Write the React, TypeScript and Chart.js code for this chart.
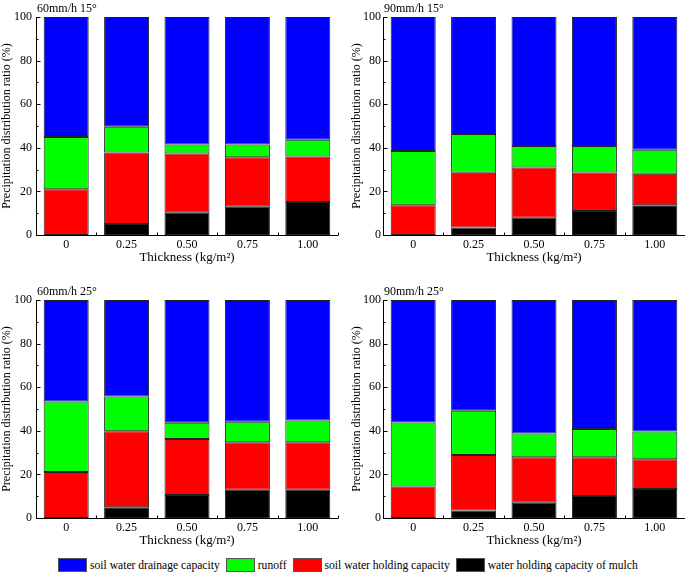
import React, { useEffect, useRef } from 'react';
import { Chart, registerables } from 'chart.js';
Chart.register(...registerables);

const categories = ['0', '0.25', '0.50', '0.75', '1.00'];
const seriesNames = [
  'soil water drainage capacity',
  'runoff',
  'soil water holding capacity',
  'water holding capacity of mulch',
];
const seriesColors = ['#0000FF', '#00FF00', '#FF0000', '#000000'];
const yTicks = [0, 20, 40, 60, 80, 100];

// 60mm/h 15°
const tlMulch = [0, 5, 10.2, 13, 15.1];
const tlSoil = [21, 32.9, 27.2, 22.7, 20.9];
const tlRunoff = [24, 11.7, 4.1, 5.8, 7.7];
const tlDrainage = [55, 50.4, 58.5, 58.5, 56.3];
// 90mm/h 15°
const trMulch = [0, 3.4, 7.9, 11, 13.6];
const trSoil = [13.7, 25.1, 23.1, 17.7, 14.5];
const trRunoff = [24.8, 17.8, 9.8, 12.1, 11];
const trDrainage = [61.5, 53.7, 59.2, 59.2, 60.9];
// 60mm/h 25°
const blMulch = [0, 4.9, 10.5, 13, 13];
const blSoil = [21.1, 34.9, 25.7, 21.8, 21.8];
const blRunoff = [32.3, 15.9, 7.5, 9.3, 9.9];
const blDrainage = [46.6, 44.3, 56.3, 55.9, 55.3];
// 90mm/h 25°
const brMulch = [0, 3.4, 7, 10.1, 13.3];
const brSoil = [14.4, 25.5, 20.9, 17.8, 13.7];
const brRunoff = [29.4, 20.3, 10.9, 12.9, 12.7];
const brDrainage = [56.2, 50.8, 61.2, 59.2, 60.3];

const FONT = '"Liberation Serif", "Times New Roman", serif';

const axesPlugin = {
  id: 'axesPlugin',
  afterDatasetsDraw(chart: any, _args: any, opts: any) {
    const { ctx, chartArea, scales } = chart;
    const { left, right, top, bottom } = chartArea;
    const x = scales.x;
    const y = scales.y;
    ctx.save();
    ctx.strokeStyle = '#000';
    ctx.lineWidth = 1;
    ctx.beginPath();
    const lx = Math.round(left) + 0.5;
    const by = Math.round(bottom) + 0.5;
    ctx.moveTo(lx, top);
    ctx.lineTo(lx, by);
    ctx.lineTo(right, by);
    for (let v = 0; v <= 100; v += 10) {
      const py = Math.round(y.getPixelForValue(v)) + 0.5;
      ctx.moveTo(lx, py);
      ctx.lineTo(lx + (v % 20 === 0 ? 4 : 2), py);
    }
    const n = categories.length;
    const step = x.getPixelForValue(1) - x.getPixelForValue(0);
    for (let i = 0; i <= n; i++) {
      const px = Math.round(x.getPixelForValue(0) - step / 2 + i * step) + 0.5;
      ctx.moveTo(px, by);
      ctx.lineTo(px, by - 3);
    }
    ctx.stroke();
    ctx.fillStyle = '#000';
    ctx.font = '12px ' + FONT;
    ctx.textBaseline = 'alphabetic';
    ctx.textAlign = 'left';
    ctx.fillText(opts.title || '', left + 1, top - 5);
    ctx.restore();
  },
};

type PanelProps = {
  title: string;
  mulch: number[];
  soil: number[];
  runoff: number[];
  drainage: number[];
  left: number;
  top: number;
  width: number;
  axisWidth: number;
  padRight: number;
  yLabelPad: number;
  yTitlePad: number;
};

function Panel(p: PanelProps) {
  const ref = useRef<HTMLCanvasElement>(null);
  useEffect(() => {
    if (!ref.current) return;
    const mk = (label: string, data: number[], color: string) => ({
      label,
      data,
      backgroundColor: color,
      borderColor: '#222222',
      borderWidth: 1,
      borderSkipped: false as const,
      categoryPercentage: 1,
      barPercentage: 0.745,
    });
    const chart = new Chart(ref.current, {
      type: 'bar',
      data: {
        labels: categories,
        datasets: [
          mk(seriesNames[3], p.mulch, seriesColors[3]),
          mk(seriesNames[2], p.soil, seriesColors[2]),
          mk(seriesNames[1], p.runoff, seriesColors[1]),
          mk(seriesNames[0], p.drainage, seriesColors[0]),
        ],
      },
      options: {
        animation: false,
        responsive: false,
        devicePixelRatio: 1,
        layout: { padding: { top: 17, right: p.padRight, left: 0, bottom: 0 } },
        plugins: {
          legend: { display: false },
          tooltip: { enabled: false },
          axesPlugin: { title: p.title },
        } as any,
        scales: {
          x: {
            stacked: true,
            grid: { display: false, drawTicks: false },
            border: { display: false },
            ticks: { color: '#000', font: { family: FONT, size: 12 }, padding: 3, maxRotation: 0 },
            title: {
              display: true,
              text: 'Thickness (kg/m²)',
              color: '#000',
              font: { family: FONT, size: 13 },
              padding: { top: 0, bottom: 2 },
            },
            afterFit: (s: any) => {
              s.height = 32;
            },
          },
          y: {
            stacked: true,
            min: 0,
            max: 100,
            afterBuildTicks: (s: any) => {
              s.ticks = yTicks.map((v) => ({ value: v }));
            },
            grid: { display: false, drawTicks: false },
            border: { display: false },
            ticks: { color: '#000', font: { family: FONT, size: 12 }, padding: p.yLabelPad },
            title: {
              display: true,
              text: 'Precipitation distribution ratio (%)',
              color: '#000',
              font: { family: FONT, size: 12 },
              padding: { top: p.yTitlePad, bottom: 0 },
            },
            afterFit: (s: any) => {
              s.width = p.axisWidth;
            },
          },
        },
      },
      plugins: [axesPlugin],
    });
    return () => chart.destroy();
  }, []);
  return (
    <canvas
      ref={ref}
      width={p.width}
      height={267}
      style={{ position: 'absolute', left: p.left, top: p.top, width: p.width, height: 267 }}
    />
  );
}

const legendOrder = [0, 1, 2, 3];

export default function App() {
  useEffect(() => {
    document.body.style.margin = '0';
  }, []);
  return (
    <div style={{ position: 'relative', width: 685, height: 577, background: '#fff', overflow: 'hidden' }}>
      <Panel title="60mm/h 15°" mulch={tlMulch} soil={tlSoil} runoff={tlRunoff} drainage={tlDrainage}
        left={0} top={0} width={342} axisWidth={36} padRight={4} yLabelPad={4} yTitlePad={0} />
      <Panel title="90mm/h 15°" mulch={trMulch} soil={trSoil} runoff={trRunoff} drainage={trDrainage}
        left={346} top={0} width={339} axisWidth={37} padRight={0} yLabelPad={2} yTitlePad={4} />
      <Panel title="60mm/h 25°" mulch={blMulch} soil={blSoil} runoff={blRunoff} drainage={blDrainage}
        left={0} top={283} width={342} axisWidth={36} padRight={4} yLabelPad={4} yTitlePad={0} />
      <Panel title="90mm/h 25°" mulch={brMulch} soil={brSoil} runoff={brRunoff} drainage={brDrainage}
        left={346} top={283} width={339} axisWidth={37} padRight={0} yLabelPad={2} yTitlePad={4} />
      <div style={{ position: 'absolute', left: 58, top: 557, height: 16, display: 'flex', alignItems: 'center',
        fontFamily: FONT, fontSize: 11.6, color: '#000', whiteSpace: 'nowrap' }}>
        {legendOrder.map((i) => (
          <React.Fragment key={i}>
            <span style={{ display: 'inline-block', width: 27, height: 12, background: seriesColors[i],
              border: '1px solid #555', marginRight: 3 }} />
            <span style={{ marginRight: 6 }}>{seriesNames[i]}</span>
          </React.Fragment>
        ))}
      </div>
    </div>
  );
}
